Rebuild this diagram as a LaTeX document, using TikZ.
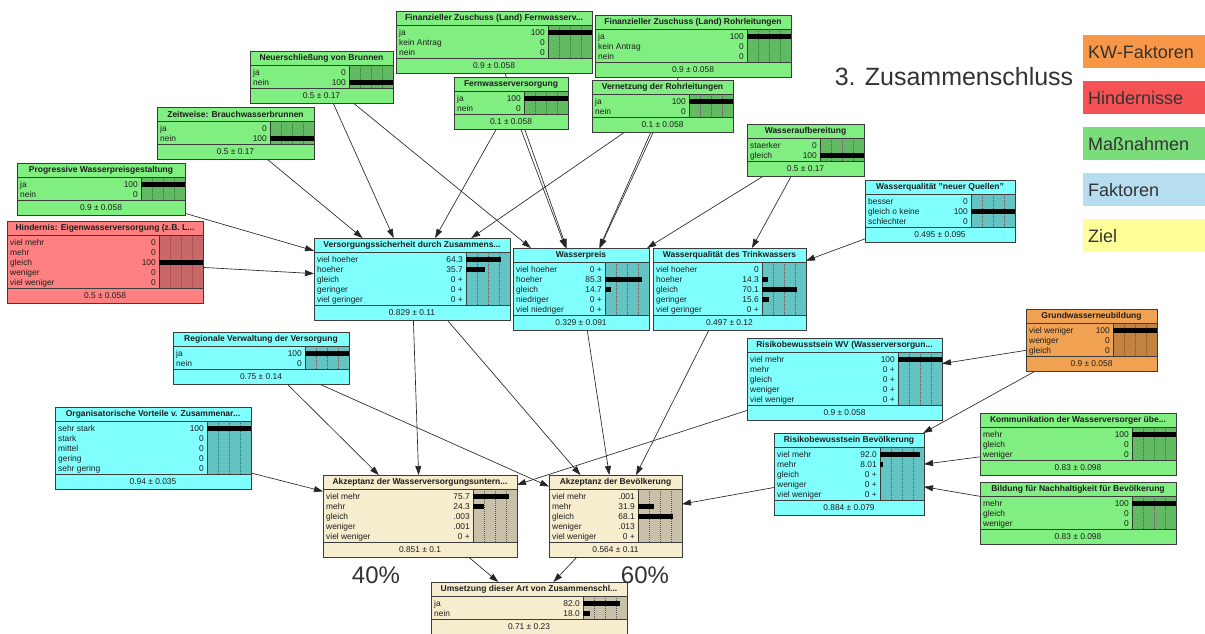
\documentclass[tikz,border=0pt]{standalone}
\usepackage{fontspec}
\setmainfont{Liberation Sans}
\usetikzlibrary{arrows.meta,calc}
\pgfdeclarelayer{background}
\pgfsetlayers{background,main}

% node palettes: <prefix>fill for the box, <prefix>bar for the belief-bar area
\definecolor{grnfill}{RGB}{128,238,128}
\definecolor{grnbar}{RGB}{98,186,98}
\definecolor{cynfill}{RGB}{128,255,255}
\definecolor{cynbar}{RGB}{100,196,196}
\definecolor{redfill}{RGB}{255,128,128}
\definecolor{redbar}{RGB}{200,104,104}
\definecolor{orgfill}{RGB}{240,162,82}
\definecolor{orgbar}{RGB}{194,130,66}
\definecolor{bgefill}{RGB}{246,236,206}
\definecolor{bgebar}{RGB}{200,192,168}
\definecolor{boxline}{RGB}{60,60,60}
\definecolor{txt}{RGB}{30,30,30}
% legend colours
\definecolor{legkw}{RGB}{247,150,70}
\definecolor{leghin}{RGB}{245,82,86}
\definecolor{legmas}{RGB}{122,220,122}
\definecolor{legfak}{RGB}{182,221,240}
\definecolor{legziel}{RGB}{255,255,153}

\tikzset{
  netframe/.style={rectangle, inner sep=0pt, outer sep=0pt},
  nettitle/.style={font=\fontsize{8.5}{9}\selectfont\bfseries, text=txt, inner sep=0pt},
  netstate/.style={font=\fontsize{8.4}{9}\selectfont, text=txt, inner sep=0pt},
  gridline/.style={black!65, line width=0.4pt, dash pattern=on 1pt off 1pt},
  link/.style={draw=black!85, line width=0.65pt, -{Triangle[length=9pt,width=6pt]}},
  legendbox/.style={rectangle, anchor=north west, minimum width=122pt, minimum height=33pt,
    text width=112pt, align=left, inner xsep=5pt, font=\fontsize{18}{20}\selectfont, text=black!80},
  bigtext/.style={font=\fontsize{24}{28}\selectfont, text=black!80, inner sep=0pt},
}

% #1 name, #2 left, #3 top, #4 width, #5 number of states, #6 palette,
% #7 title, #8 states as label/value/bar fraction, #9 mean and deviation
\newcommand\netbox[9]{%
  \pgfmathsetmacro\bxL{#2}%
  \pgfmathsetmacro\bxR{#2+#4}%
  \pgfmathsetmacro\bxT{#3}%
  \pgfmathsetmacro\bxH{32+10*#5}%
  \pgfmathsetmacro\bxB{#3+\bxH}%
  \pgfmathsetmacro\bxG{\bxR-44}%
  \node[netframe, fill=#6fill, minimum width=#4pt, minimum height=\bxH pt, anchor=north west] (#1) at (\bxL,\bxT) {};
  \fill[#6bar] (\bxG,\bxT+14) rectangle (\bxR,\bxB-15);
  \foreach \q in {11,22,33} \draw[gridline] (\bxG+\q,\bxT+14) -- (\bxG+\q,\bxB-15);
  \draw[boxline, line width=0.6pt] (\bxL,\bxT+14) -- (\bxR,\bxT+14)
    (\bxL,\bxB-15) -- (\bxR,\bxB-15) (\bxG,\bxT+14) -- (\bxG,\bxB-15);
  \node[nettitle] at ({(\bxL+\bxR)/2},\bxT+7.5) {#7};
  \node[netstate] at ({(\bxL+\bxR)/2},\bxB-7.5) {#9};
  \foreach \sLab/\sVal/\sBar [count=\i from 0] in {#8} {
    \node[netstate, anchor=base west] at (\bxL+3,\bxT+24.5+10*\i) {\sLab};
    \node[netstate, anchor=base east] at (\bxG-3,\bxT+24.5+10*\i) {\sVal};
    \fill[black] (\bxG,\bxT+18.5+10*\i) rectangle (\bxG+44*\sBar,\bxT+23.5+10*\i);
  }
  \draw[boxline, line width=0.8pt] (#1.north west) rectangle (#1.south east);
}

\begin{document}
\begin{tikzpicture}[x=1pt, y=-1pt]
\useasboundingbox (0,0) rectangle (1205,633);

% measures
\netbox{brunnen}{250}{51}{143}{2}{grn}{Neuerschließung von Brunnen}{ja/0/0, nein/100/1}{0.5 ± 0.17}
\netbox{brauch}{157}{107}{157}{2}{grn}{Zeitweise: Brauchwasserbrunnen}{ja/0/0, nein/100/1}{0.5 ± 0.17}
\netbox{preisgest}{17}{163}{168}{2}{grn}{Progressive Wasserpreisgestaltung}{ja/100/1, nein/0/0}{0.9 ± 0.058}
\netbox{zuschussfw}{396}{11}{196}{3}{grn}{Finanzieller Zuschuss (Land) Fernwasserv...}{ja/100/1, kein Antrag/0/0, nein/0/0}{0.9 ± 0.058}
\netbox{zuschussrl}{595}{15}{196}{3}{grn}{Finanzieller Zuschuss (Land) Rohrleitungen}{ja/100/1, kein Antrag/0/0, nein/0/0}{0.9 ± 0.058}
\netbox{fernwasser}{454}{77}{114}{2}{grn}{Fernwasserversorgung}{ja/100/1, nein/0/0}{0.1 ± 0.058}
\netbox{vernetzung}{592}{80}{141}{2}{grn}{Vernetzung der Rohrleitungen}{ja/100/1, nein/0/0}{0.1 ± 0.058}
\netbox{aufbereitung}{747}{124}{117}{2}{grn}{Wasseraufbereitung}{staerker/0/0, gleich/100/1}{0.5 ± 0.17}
\netbox{kommunikation}{980}{413}{196}{3}{grn}{Kommunikation der Wasserversorger übe...}{mehr/100/1, gleich/0/0, weniger/0/0}{0.83 ± 0.098}
\netbox{bildung}{980}{482}{196}{3}{grn}{Bildung für Nachhaltigkeit für Bevölkerung}{mehr/100/1, gleich/0/0, weniger/0/0}{0.83 ± 0.098}

% obstacle and climate factor
\netbox{hindernis}{7}{221}{196}{5}{red}{Hindernis: Eigenwasserversorgung (z.B. L...}{viel mehr/0/0, mehr/0/0, gleich/100/1, weniger/0/0, viel weniger/0/0}{0.5 ± 0.058}
\netbox{grundwasser}{1026}{309}{131}{3}{org}{Grundwasserneubildung}{viel weniger/100/1, weniger/0/0, gleich/0/0}{0.9 ± 0.058}

% factors
\netbox{quellen}{865}{180}{150}{3}{cyn}{Wasserqualität "neuer Quellen"}{besser/0/0, gleich o keine/100/1, schlechter/0/0}{0.495 ± 0.095}
\netbox{sicherheit}{314}{238}{196}{5}{cyn}{Versorgungssicherheit durch Zusammens...}{viel hoeher/64.3/0.8, hoeher/35.7/0.44, gleich/0 +/0, geringer/0 +/0, viel geringer/0 +/0}{0.829 ± 0.11}
\netbox{preis}{513}{248}{136}{5}{cyn}{Wasserpreis}{viel hoeher/0 +/0, hoeher/85.3/0.83, gleich/14.7/0.14, niedriger/0 +/0, viel niedriger/0 +/0}{0.329 ± 0.091}
\netbox{qualitaet}{653}{248}{153}{5}{cyn}{Wasserqualität des Trinkwassers}{viel hoeher/0/0, hoeher/14.3/0.13, gleich/70.1/0.8, geringer/15.6/0.16, viel geringer/0 +/0}{0.497 ± 0.12}
\netbox{verwaltung}{173}{332}{176}{2}{cyn}{Regionale Verwaltung der Versorgung}{ja/100/1, nein/0/0}{0.75 ± 0.14}
\netbox{vorteile}{55}{407}{196}{5}{cyn}{Organisatorische Vorteile v. Zusammenar...}{sehr stark/100/1, stark/0/0, mittel/0/0, gering/0/0, sehr gering/0/0}{0.94 ± 0.035}
\netbox{risikowv}{747}{338}{195}{5}{cyn}{Risikobewusstsein WV (Wasserversorgun...}{viel mehr/100/1, mehr/0 +/0, gleich/0 +/0, weniger/0 +/0, viel weniger/0 +/0}{0.9 ± 0.058}
\netbox{risikobev}{774}{433}{150}{5}{cyn}{Risikobewusstsein Bevölkerung}{viel mehr/92.0/0.92, mehr/8.01/0.06, gleich/0 +/0, weniger/0 +/0, viel weniger/0 +/0}{0.884 ± 0.079}

% goals
\netbox{akzwvu}{323}{475}{194}{5}{bge}{Akzeptanz der Wasserversorgungsuntern...}{viel mehr/75.7/0.82, mehr/24.3/0.26, gleich/.003/0, weniger/.001/0, viel weniger/0 +/0}{0.851 ± 0.1}
\netbox{akzbev}{549}{475}{133}{5}{bge}{Akzeptanz der Bevölkerung}{viel mehr/.001/0, mehr/31.9/0.36, gleich/68.1/0.8, weniger/.013/0, viel weniger/0 +/0}{0.564 ± 0.11}
\netbox{umsetzung}{431}{582}{196}{2}{bge}{Umsetzung dieser Art von Zusammenschl...}{ja/82.0/0.84, nein/18.0/0.16}{0.71 ± 0.23}

% dependencies, drawn beneath the boxes
\begin{pgfonlayer}{background}
  \fill[white] (0,0) rectangle (1205,633);
  \foreach \src/\dst in {
      brauch/sicherheit, brunnen/sicherheit, brunnen/preis, preisgest/sicherheit,
      hindernis/sicherheit, fernwasser/sicherheit, fernwasser/preis, zuschussfw/preis,
      vernetzung/sicherheit, vernetzung/preis, zuschussrl/preis,
      aufbereitung/preis, aufbereitung/qualitaet, quellen/qualitaet,
      sicherheit/akzwvu, sicherheit/akzbev, preis/akzbev, qualitaet/akzbev,
      verwaltung/akzwvu, verwaltung/akzbev, vorteile/akzwvu, risikowv/akzwvu,
      risikobev/akzbev, grundwasser/risikowv, grundwasser/risikobev,
      kommunikation/risikobev, bildung/risikobev,
      akzwvu/umsetzung, akzbev/umsetzung}
    \draw[link] (\src) -- (\dst);
\end{pgfonlayer}

% heading, weights and legend
\node[font=\fontsize{25}{28}\selectfont, text=black!80, inner sep=0pt] (heading) at (954,77) {3. Zusammenschluss};
\node[bigtext] (wvu) at (376,575) {40\%};
\node[bigtext] (bev) at (645,575) {60\%};

\node[legendbox, fill=legkw] (lkw) at (1083,35) {KW-Faktoren};
\node[legendbox, fill=leghin] (lhin) at (1083,81) {Hindernisse};
\node[legendbox, fill=legmas] (lmas) at (1083,127) {Maßnahmen};
\node[legendbox, fill=legfak] (lfak) at (1083,173) {Faktoren};
\node[legendbox, fill=legziel] (lziel) at (1083,219) {Ziel};
\end{tikzpicture}
\end{document}
